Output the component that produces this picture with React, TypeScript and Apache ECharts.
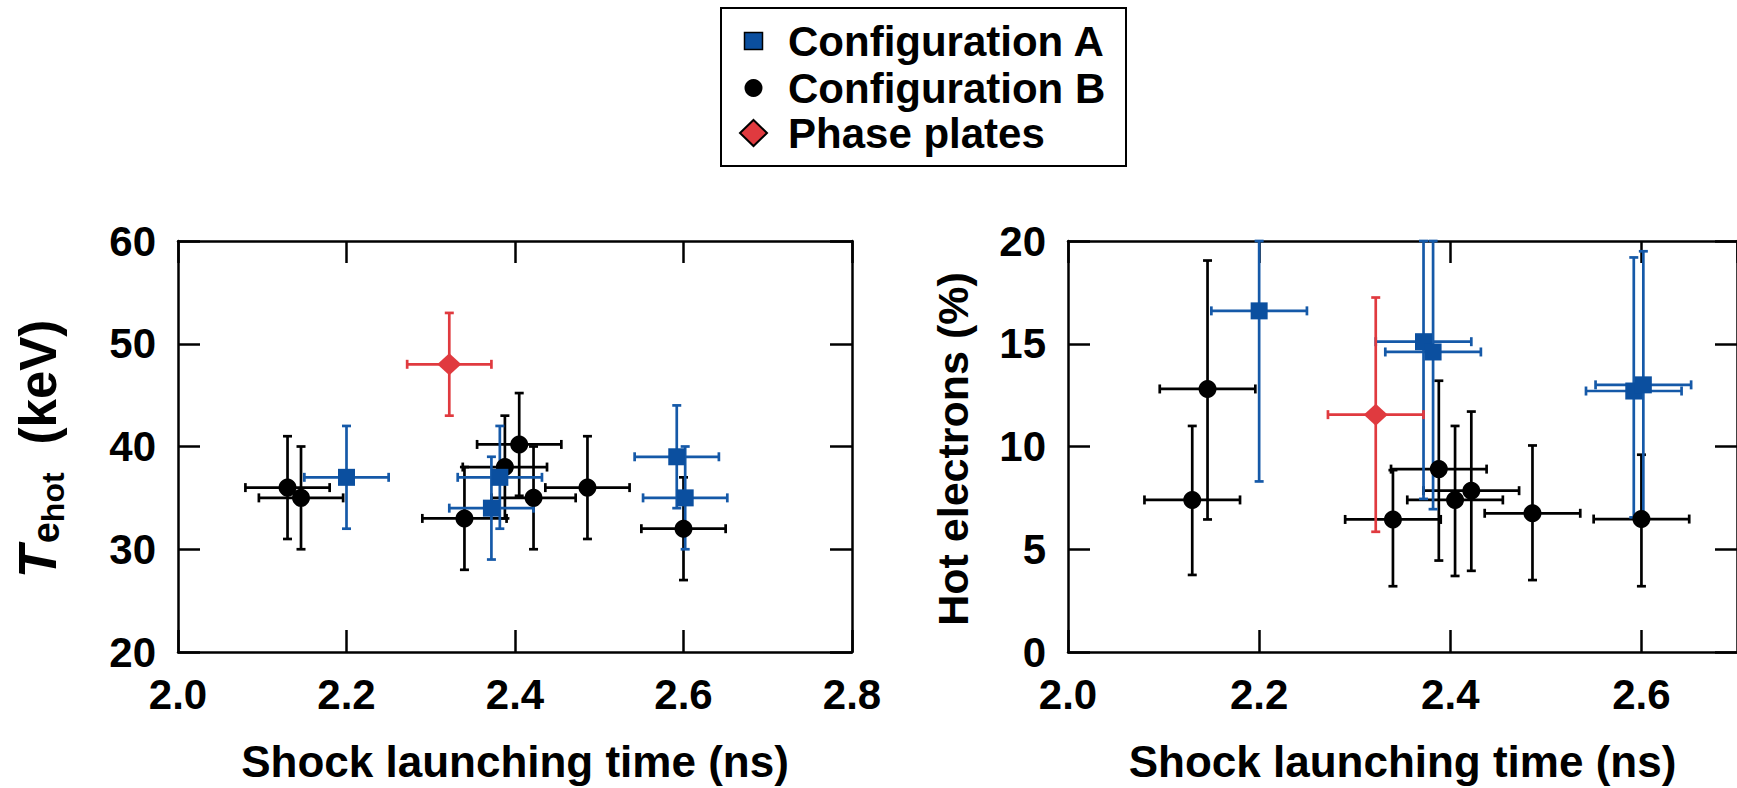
import React, { useEffect, useRef } from "react";
import * as echarts from "echarts";

// Shock launching time (ns) of each shot, grouped by beam configuration
const shockA = [2.2, 2.372, 2.382, 2.592, 2.602];
const shockB = [2.13, 2.146, 2.34, 2.388, 2.405, 2.422, 2.486, 2.6];
const shockP = [2.322];
const shockErr = 0.05;

// Hot-electron temperature (keV)
const tempA = [37, 34, 37, 39, 35];
const tempB = [36, 35, 33, 38, 40.2, 35, 36, 32];
const tempP = [48];
const tempErr = 5;

// Hot-electron fraction (%) with lower / upper error bounds
const hotA = [16.6, 15.1, 14.6, 12.7, 13.0];
const hotALow = [8.3, 7.45, 6.95, 6.55, 6.55];
const hotAHigh = [20, 20, 20, 19.2, 19.5];
const hotB = [7.4, 12.8, 6.45, 8.9, 7.4, 7.85, 6.75, 6.47];
const hotBLow = [3.75, 6.45, 3.2, 4.45, 3.7, 3.95, 3.5, 3.2];
const hotBHigh = [11.0, 19.05, 8.85, 13.2, 11.0, 11.7, 10.05, 9.6];
const hotP = [11.55];
const hotPLow = [5.85];
const hotPHigh = [17.25];

const legendNames = ["Configuration A", "Configuration B", "Phase plates"];

const FONT = '"Liberation Sans", Arial, Helvetica, sans-serif';
const BLUE = "#0b4f9f";
const BLUE_BAR = "#1559a8";
const RED = "#e03a3f";
const BLACK = "#000000";

type Row = [number, number, number, number, number, number];

function rowsSym(xs: number[], ys: number[], xe: number, ye: number): Row[] {
  return xs.map((x, i) => [x, ys[i], x - xe, x + xe, ys[i] - ye, ys[i] + ye]);
}
function rowsAsym(xs: number[], ys: number[], xe: number, lo: number[], hi: number[]): Row[] {
  return xs.map((x, i) => [x, ys[i], x - xe, x + xe, lo[i], hi[i]]);
}

function errorBars(name: string, data: Row[], color: string, axis: number) {
  return {
    type: "custom",
    name,
    xAxisIndex: axis * 2,
    yAxisIndex: axis * 2,
    clip: false,
    silent: true,
    data,
    encode: { x: 0, y: 1 },
    renderItem: (_p: any, api: any) => {
      const x = api.value(0);
      const y = api.value(1);
      const pL = api.coord([api.value(2), y]);
      const pR = api.coord([api.value(3), y]);
      const pB = api.coord([x, api.value(4)]);
      const pT = api.coord([x, api.value(5)]);
      const cap = 4.5;
      const style = { stroke: color, lineWidth: 2.7 };
      const seg = (x1: number, y1: number, x2: number, y2: number) => ({
        type: "line",
        shape: { x1, y1, x2, y2 },
        style,
      });
      return {
        type: "group",
        children: [
          seg(pL[0], pL[1], pR[0], pR[1]),
          seg(pL[0], pL[1] - cap, pL[0], pL[1] + cap),
          seg(pR[0], pR[1] - cap, pR[0], pR[1] + cap),
          seg(pB[0], pB[1], pT[0], pT[1]),
          seg(pT[0] - cap, pT[1], pT[0] + cap, pT[1]),
          seg(pB[0] - cap, pB[1], pB[0] + cap, pB[1]),
        ],
      };
    },
  };
}

function markers(name: string, xs: number[], ys: number[], symbol: string, size: any, color: string, axis: number) {
  return {
    type: "scatter",
    name,
    xAxisIndex: axis * 2,
    yAxisIndex: axis * 2,
    symbol,
    symbolSize: size,
    itemStyle: { color, opacity: 1 },
    silent: true,
    data: xs.map((x, i) => [x, ys[i]]),
  };
}

const lineStyle = { color: BLACK, width: 2.5 };
const tick = { show: true, inside: true, length: 22, lineStyle: { color: BLACK, width: 2.5 } };
const labelStyle = { color: BLACK, fontFamily: FONT, fontWeight: "bold" as const, fontSize: 42, lineHeight: 42 };

function xAxes(grid: number, max: number) {
  const base = {
    type: "value",
    gridIndex: grid,
    min: 2.0,
    max,
    interval: 0.2,
    axisLine: { show: true, onZero: false, lineStyle },
    axisTick: tick,
    splitLine: { show: false },
  };
  return [
    {
      ...base,
      position: "bottom",
      axisLabel: {
        ...labelStyle,
        margin: 21,
        showMaxLabel: max === 2.8,
        formatter: (v: number) => v.toFixed(1),
      },
      name: "Shock launching time (ns)",
      nameLocation: "middle",
      nameGap: 109,
      nameTextStyle: { ...labelStyle, fontSize: 44, lineHeight: 44, verticalAlign: "middle" },
    },
    { ...base, position: "top", axisLabel: { show: false } },
  ];
}

function yAxes(grid: number, min: number, max: number, interval: number) {
  const base = {
    type: "value",
    gridIndex: grid,
    min,
    max,
    interval,
    axisLine: { show: true, onZero: false, lineStyle },
    axisTick: tick,
    splitLine: { show: false },
  };
  return [
    { ...base, position: "left", axisLabel: { ...labelStyle, margin: 22 } },
    { ...base, position: "right", axisLabel: { show: false } },
  ];
}

function tempTitle() {
  // T_{e_hot} (keV), drawn reading bottom to top
  const fsT = 54;
  const fsE = 38;
  const fsH = 32;
  const fsU = 51;
  const base = 20;
  const wT = 0.611 * fsT + 2;
  const wE = 0.556 * fsE;
  const wH = 1.555 * fsH + 28;
  const wU = 2.445 * fsU;
  const start = -(wT + wE + wH + wU) / 2;
  const piece = (text: string, x: number, baseline: number, fs: number, italic = false) => ({
    type: "text",
    x,
    y: baseline - 0.3465 * fs,
    style: {
      text,
      fill: BLACK,
      font: `${italic ? "italic " : ""}bold ${fs}px ${FONT}`,
      align: "left",
      verticalAlign: "middle",
    },
  });
  return {
    type: "group",
    x: 36,
    y: 449,
    rotation: Math.PI / 2,
    children: [
      piece("T", start, base, fsT, true),
      piece("e", start + wT, base + 3, fsE),
      piece("hot", start + wT + wE, base + 8, fsH),
      piece("(keV)", start + wT + wE + wH, base, fsU),
    ],
  };
}

function legendBox() {
  const rows = [41, 88, 133];
  const iconX = 753.5;
  const textX = 788;
  const font = `bold 42px ${FONT}`;
  return {
    type: "group",
    children: [
      {
        type: "rect",
        shape: { x: 721, y: 8, width: 405, height: 158 },
        style: { fill: "#ffffff", stroke: BLACK, lineWidth: 2 },
      },
      {
        type: "rect",
        shape: { x: iconX - 9, y: rows[0] - 8.5, width: 18, height: 17 },
        style: { fill: BLUE, stroke: BLACK, lineWidth: 1.5 },
      },
      {
        type: "circle",
        shape: { cx: iconX, cy: rows[1], r: 9 },
        style: { fill: BLACK },
      },
      {
        type: "polygon",
        shape: {
          points: [
            [iconX, rows[2] - 13],
            [iconX + 13.5, rows[2]],
            [iconX, rows[2] + 13],
            [iconX - 13.5, rows[2]],
          ],
        },
        style: { fill: RED, stroke: BLACK, lineWidth: 2 },
      },
      ...legendNames.map((t, i) => ({
        type: "text",
        x: textX,
        y: rows[i],
        style: { text: t, font, fill: BLACK, align: "left", verticalAlign: "middle" },
      })),
    ],
  };
}

export default function App() {
  const ref = useRef<HTMLDivElement>(null);

  useEffect(() => {
    document.body.style.margin = "0";
    if (!ref.current) return;
    const chart = echarts.init(ref.current, undefined, { renderer: "svg" });

    const option = {
      animation: false,
      backgroundColor: "#ffffff",
      grid: [
        { left: 178, top: 241, width: 674, height: 416 },
        { left: 1068, top: 241, width: 674, height: 416 },
      ],
      xAxis: [...xAxes(0, 2.8), ...xAxes(1, 2.7)],
      yAxis: [...yAxes(0, 20, 60, 10), ...yAxes(1, 0, 20, 5)],
      series: [
        errorBars(legendNames[1], rowsSym(shockB, tempB, shockErr, tempErr), BLACK, 0),
        markers(legendNames[1], shockB, tempB, "circle", 18, BLACK, 0),
        errorBars(legendNames[0], rowsSym(shockA, tempA, shockErr, tempErr), BLUE_BAR, 0),
        markers(legendNames[0], shockA, tempA, "rect", 17, BLUE, 0),
        errorBars(legendNames[2], rowsSym(shockP, tempP, shockErr, tempErr), RED, 0),
        markers(legendNames[2], shockP, tempP, "diamond", [24, 22], RED, 0),

        errorBars(legendNames[1], rowsAsym(shockB, hotB, shockErr, hotBLow, hotBHigh), BLACK, 1),
        markers(legendNames[1], shockB, hotB, "circle", 18, BLACK, 1),
        errorBars(legendNames[0], rowsAsym(shockA, hotA, shockErr, hotALow, hotAHigh), BLUE_BAR, 1),
        markers(legendNames[0], shockA, hotA, "rect", 17, BLUE, 1),
        errorBars(legendNames[2], rowsAsym(shockP, hotP, shockErr, hotPLow, hotPHigh), RED, 1),
        markers(legendNames[2], shockP, hotP, "diamond", [24, 22], RED, 1),
      ],
      graphic: [
        legendBox(),
        tempTitle(),
        {
          type: "text",
          x: 953,
          y: 449,
          rotation: Math.PI / 2,
          style: {
            text: "Hot electrons (%)",
            font: `bold 43px ${FONT}`,
            fill: BLACK,
            align: "center",
            verticalAlign: "middle",
          },
        },
      ],
    };

    chart.setOption(option as any);
    return () => chart.dispose();
  }, []);

  return <div ref={ref} style={{ width: 1737, height: 788 }} />;
}
